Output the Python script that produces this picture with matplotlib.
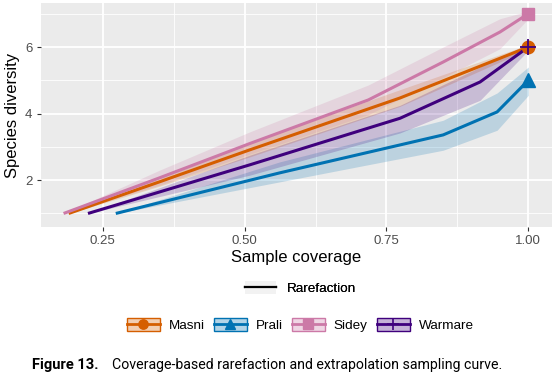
import numpy as np
import matplotlib.pyplot as plt
from matplotlib.colors import to_rgb
from matplotlib.lines import Line2D
from matplotlib.patches import Patch
from matplotlib.legend_handler import HandlerTuple

plt.rcParams['font.family'] = ['Liberation Sans', 'DejaVu Sans']

# Sample coverage / species diversity, with the ribbon limits
masni_x = [0.19, 0.35, 0.509, 0.774, 1.0]
masni_y = [1.0, 1.95, 2.91, 4.47, 6.0]
masni_lo = [1.0, 1.82, 2.7, 4.22, 5.93]
masni_hi = [1.0, 2.1, 3.12, 4.72, 6.07]

prali_x = [0.273, 0.562, 0.85, 0.945, 1.0]
prali_y = [1.0, 2.22, 3.36, 4.05, 5.0]
prali_lo = [1.0, 1.95, 2.9, 3.5, 4.55]
prali_hi = [1.0, 2.55, 3.8, 4.62, 5.4]

sidey_x = [0.181, 0.35, 0.509, 0.718, 0.85, 0.95, 1.0]
sidey_y = [1.0, 2.07, 3.1, 4.41, 5.55, 6.45, 7.0]
sidey_lo = [1.0, 1.85, 2.78, 3.97, 5.08, 5.95, 6.85]
sidey_hi = [1.0, 2.3, 3.45, 4.86, 6.0, 6.85, 7.08]

warmare_x = [0.224, 0.509, 0.774, 0.915, 1.0]
warmare_y = [1.0, 2.46, 3.86, 4.95, 6.0]
warmare_lo = [1.0, 2.15, 3.42, 4.4, 5.9]
warmare_hi = [1.0, 2.75, 4.25, 5.4, 6.1]

sites = ['Masni', 'Prali', 'Sidey', 'Warmare']
colors = ['#D55E00', '#0072B2', '#CC79A7', '#3F007D']
markers = ['o', '^', 's', '+']
msizes = [9, 10, 9, 12]

series = [
    (masni_x, masni_y, masni_lo, masni_hi),
    (prali_x, prali_y, prali_lo, prali_hi),
    (sidey_x, sidey_y, sidey_lo, sidey_hi),
    (warmare_x, warmare_y, warmare_lo, warmare_hi),
]

fig = plt.figure(figsize=(5.6, 3.83), dpi=100)
ax = fig.add_axes([0.073, 0.407, 0.913, 0.585])
ax.set_facecolor('#EBEBEB')
for s in ax.spines.values():
    s.set_visible(False)

ax.set_xlim(0.141, 1.042)
ax.set_ylim(0.59, 7.32)
ax.set_xticks([0.25, 0.5, 0.75, 1.0])
ax.set_xticklabels(['0.25', '0.50', '0.75', '1.00'])
ax.set_yticks([2, 4, 6])
ax.set_xticks([0.375, 0.625, 0.875], minor=True)
ax.set_yticks([1, 3, 5, 7], minor=True)
ax.grid(which='major', color='white', lw=1.3)
ax.grid(which='minor', color='white', lw=0.6)
ax.set_axisbelow(True)
ax.tick_params(which='major', length=3, color='#333333', labelsize=9.5,
               labelcolor='#4D4D4D', pad=3)
ax.tick_params(which='minor', length=0)

for (x, y, lo, hi), c in zip(series, colors):
    ax.fill_between(x, lo, hi, color=c, alpha=0.2, lw=0)
for (x, y, lo, hi), c in zip(series, colors):
    ax.plot(x, y, color=c, lw=2.2, solid_capstyle='butt')
for (x, y, lo, hi), c, m, ms in zip(series, colors, markers, msizes):
    ax.plot(x[-1], y[-1], marker=m, color=c, ms=ms, mew=1.3 if m == '+' else 1,
            ls='none')

ax.set_xlabel('Sample coverage', fontsize=12, labelpad=2)
ax.set_ylabel('Species diversity', fontsize=12, labelpad=4)

# legend 1: method
h1 = [(Patch(facecolor='#F2F2F2', edgecolor='none'),
       Line2D([], [], color='black', lw=1.6))]
leg1 = fig.legend(h1, ['Rarefaction'], loc='center', bbox_to_anchor=(0.536, 0.248),
                  frameon=False, fontsize=9.7, handlelength=2.3, handleheight=1.1,
                  handletextpad=0.8,
                  handler_map={tuple: HandlerTuple(ndivide=1)})
fig.add_artist(leg1)

# legend 2: sites
h2 = []
for c, m, ms in zip(colors, markers, msizes):
    box = Patch(facecolor=(*to_rgb(c), 0.3), edgecolor=c, lw=1)
    ln = Line2D([], [], color=c, lw=2, marker=m, ms=ms * 0.75,
                mew=1.2 if m == '+' else 1)
    h2.append((box, ln))
fig.legend(h2, sites, loc='center', bbox_to_anchor=(0.536, 0.151), ncol=4,
           frameon=False, fontsize=9.7, handlelength=2.45, handleheight=1.1,
           handletextpad=0.67, columnspacing=0.67,
           handler_map={tuple: HandlerTuple(ndivide=1)})

# caption
fig.text(0.057, 0.036, 'Figure 13.', fontsize=10.5, fontweight='bold',
         family=['Roboto', 'DejaVu Sans'])
fig.text(0.2, 0.036, 'Coverage-based rarefaction and extrapolation sampling curve.',
         fontsize=10.2, family=['Roboto', 'DejaVu Sans'])

fig.savefig('out.png', dpi=100)
